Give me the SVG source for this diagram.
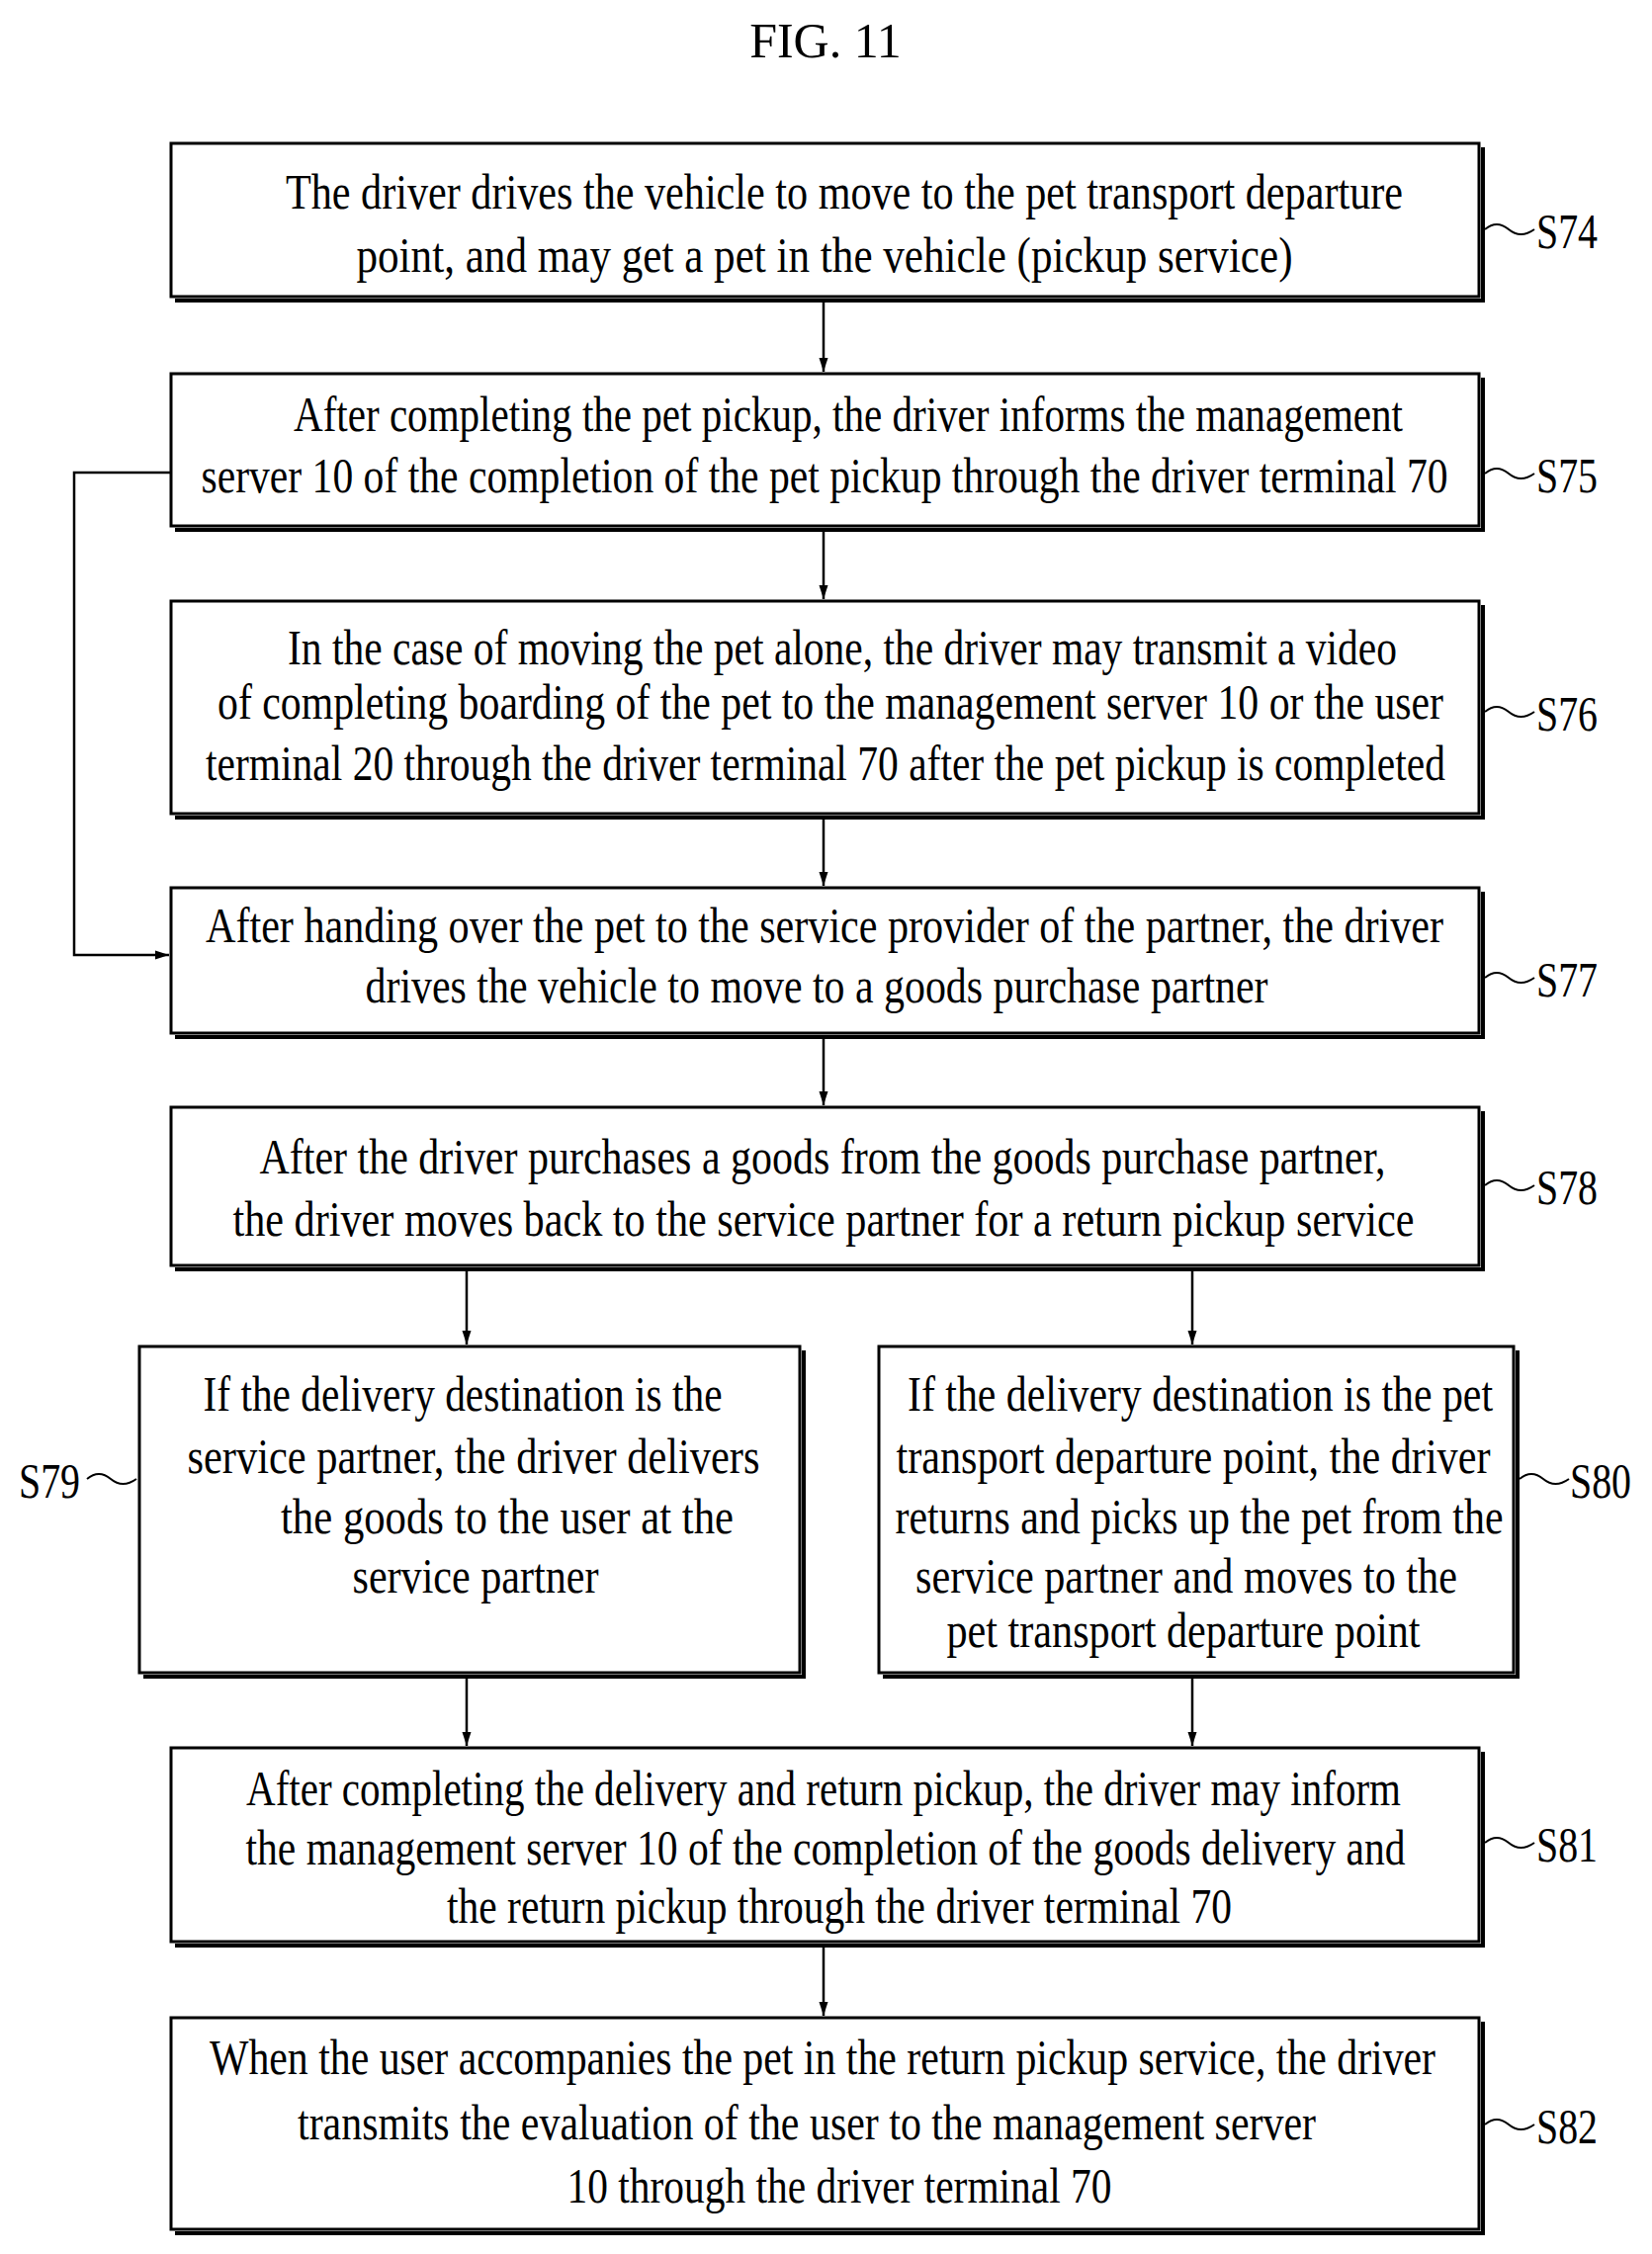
<svg xmlns="http://www.w3.org/2000/svg" width="1671" height="2280" viewBox="0 0 1671 2280">
<style>
.b{fill:#fff;stroke:#000;stroke-width:3}
.sh{fill:none;stroke:#000;stroke-width:4}
.t{font-family:"Liberation Serif",serif;font-size:50px;text-anchor:middle;fill:#000}
.l{font-family:"Liberation Serif",serif;font-size:50px;fill:#000}
.c{fill:none;stroke:#000;stroke-width:2.5}
.tl{fill:none;stroke:#000;stroke-width:2}
</style>
<defs><marker id="a" markerWidth="14" markerHeight="28" refX="14" refY="7" orient="auto" markerUnits="userSpaceOnUse" viewBox="0 0 14 14"><path d="M0,2.5 L14,7 L0,11.5 Z" fill="#000"/></marker></defs>
<text x="835" y="58" font-family="Liberation Serif,serif" font-size="50" text-anchor="middle">FIG. 11</text>
<g id="connectors">
<line class="c" x1="833" y1="302" x2="833" y2="376" marker-end="url(#a)"/>
<line class="c" x1="833" y1="534" x2="833" y2="606" marker-end="url(#a)"/>
<line class="c" x1="833" y1="825" x2="833" y2="896" marker-end="url(#a)"/>
<line class="c" x1="833" y1="1047" x2="833" y2="1118" marker-end="url(#a)"/>
<line class="c" x1="472" y1="1282" x2="472" y2="1360" marker-end="url(#a)"/>
<line class="c" x1="1206" y1="1282" x2="1206" y2="1360" marker-end="url(#a)"/>
<line class="c" x1="472" y1="1694" x2="472" y2="1766" marker-end="url(#a)"/>
<line class="c" x1="1206" y1="1694" x2="1206" y2="1766" marker-end="url(#a)"/>
<line class="c" x1="833" y1="1966" x2="833" y2="2039" marker-end="url(#a)"/>
<polyline class="c" points="173,478 75,478 75,966 171,966" marker-end="url(#a)"/>
</g>
<g id="S74"><polyline class="sh" points="1500,149 1500,304 177,304"/><rect class="b" x="173" y="145" width="1323" height="155"/>
<text class="t" x="854" y="211" textLength="1130" lengthAdjust="spacingAndGlyphs">The driver drives the vehicle to move to the pet transport departure</text>
<text class="t" x="834" y="275" textLength="947" lengthAdjust="spacingAndGlyphs">point, and may get a pet in the vehicle (pickup service)</text>
<path class="tl" d="M1502,232 q12,-10 24,0 t26,0"/><text class="l" x="1554" y="251" textLength="62" lengthAdjust="spacingAndGlyphs">S74</text></g>
<g id="S75"><polyline class="sh" points="1500,382 1500,536 177,536"/><rect class="b" x="173" y="378" width="1323" height="154"/>
<text class="t" x="858" y="436" textLength="1122" lengthAdjust="spacingAndGlyphs">After completing the pet pickup, the driver informs the management</text>
<text class="t" x="834" y="498" textLength="1261" lengthAdjust="spacingAndGlyphs">server 10 of the completion of the pet pickup through the driver terminal 70</text>
<path class="tl" d="M1502,479 q12,-10 24,0 t26,0"/><text class="l" x="1554" y="498" textLength="62" lengthAdjust="spacingAndGlyphs">S75</text></g>
<g id="S76"><polyline class="sh" points="1500,612 1500,827 177,827"/><rect class="b" x="173" y="608" width="1323" height="215"/>
<text class="t" x="852" y="672" textLength="1122" lengthAdjust="spacingAndGlyphs">In the case of moving the pet alone, the driver may transmit a video</text>
<text class="t" x="840" y="727" textLength="1240" lengthAdjust="spacingAndGlyphs">of completing boarding of the pet to the management server 10 or the user</text>
<text class="t" x="835" y="789" textLength="1254" lengthAdjust="spacingAndGlyphs">terminal 20 through the driver terminal 70 after the pet pickup is completed</text>
<path class="tl" d="M1502,720 q12,-10 24,0 t26,0"/><text class="l" x="1554" y="739" textLength="62" lengthAdjust="spacingAndGlyphs">S76</text></g>
<g id="S77"><polyline class="sh" points="1500,902 1500,1049 177,1049"/><rect class="b" x="173" y="898" width="1323" height="147"/>
<text class="t" x="834" y="953" textLength="1252" lengthAdjust="spacingAndGlyphs">After handing over the pet to the service provider of the partner, the driver</text>
<text class="t" x="826" y="1014" textLength="913" lengthAdjust="spacingAndGlyphs">drives the vehicle to move to a goods purchase partner</text>
<path class="tl" d="M1502,989 q12,-10 24,0 t26,0"/><text class="l" x="1554" y="1008" textLength="62" lengthAdjust="spacingAndGlyphs">S77</text></g>
<g id="S78"><polyline class="sh" points="1500,1124 1500,1284 177,1284"/><rect class="b" x="173" y="1120" width="1323" height="160"/>
<text class="t" x="832" y="1187" textLength="1139" lengthAdjust="spacingAndGlyphs">After the driver purchases a goods from the goods purchase partner,</text>
<text class="t" x="833" y="1250" textLength="1195" lengthAdjust="spacingAndGlyphs">the driver moves back to the service partner for a return pickup service</text>
<path class="tl" d="M1502,1199 q12,-10 24,0 t26,0"/><text class="l" x="1554" y="1218" textLength="62" lengthAdjust="spacingAndGlyphs">S78</text></g>
<g id="S79"><polyline class="sh" points="813,1366 813,1696 145,1696"/><rect class="b" x="141" y="1362" width="668" height="330"/>
<text class="t" x="468" y="1427" textLength="525" lengthAdjust="spacingAndGlyphs">If the delivery destination is the</text>
<text class="t" x="479" y="1490" textLength="579" lengthAdjust="spacingAndGlyphs">service partner, the driver delivers</text>
<text class="t" x="513" y="1551" textLength="458" lengthAdjust="spacingAndGlyphs">the goods to the user at the</text>
<text class="t" x="481" y="1611" textLength="249" lengthAdjust="spacingAndGlyphs">service partner</text>
<path class="tl" d="M88,1496 q12,-10 24,0 t26,0"/><text class="l" x="19" y="1515" textLength="62" lengthAdjust="spacingAndGlyphs">S79</text></g>
<g id="S80"><polyline class="sh" points="1535,1366 1535,1696 893,1696"/><rect class="b" x="889" y="1362" width="642" height="330"/>
<text class="t" x="1214" y="1427" textLength="592" lengthAdjust="spacingAndGlyphs">If the delivery destination is the pet</text>
<text class="t" x="1207" y="1490" textLength="601" lengthAdjust="spacingAndGlyphs">transport departure point, the driver</text>
<text class="t" x="1213" y="1551" textLength="615" lengthAdjust="spacingAndGlyphs">returns and picks up the pet from the</text>
<text class="t" x="1200" y="1611" textLength="548" lengthAdjust="spacingAndGlyphs">service partner and moves to the</text>
<text class="t" x="1197" y="1666" textLength="479" lengthAdjust="spacingAndGlyphs">pet transport departure point</text>
<path class="tl" d="M1537,1496 q12,-10 24,0 t26,0"/><text class="l" x="1588" y="1515" textLength="62" lengthAdjust="spacingAndGlyphs">S80</text></g>
<g id="S81"><polyline class="sh" points="1500,1772 1500,1968 177,1968"/><rect class="b" x="173" y="1768" width="1323" height="196"/>
<text class="t" x="833" y="1826" textLength="1168" lengthAdjust="spacingAndGlyphs">After completing the delivery and return pickup, the driver may inform</text>
<text class="t" x="835" y="1886" textLength="1173" lengthAdjust="spacingAndGlyphs">the management server 10 of the completion of the goods delivery and</text>
<text class="t" x="849" y="1945" textLength="794" lengthAdjust="spacingAndGlyphs">the return pickup through the driver terminal 70</text>
<path class="tl" d="M1502,1864 q12,-10 24,0 t26,0"/><text class="l" x="1554" y="1883" textLength="62" lengthAdjust="spacingAndGlyphs">S81</text></g>
<g id="S82"><polyline class="sh" points="1500,2045 1500,2259 177,2259"/><rect class="b" x="173" y="2041" width="1323" height="214"/>
<text class="t" x="832" y="2098" textLength="1240" lengthAdjust="spacingAndGlyphs">When the user accompanies the pet in the return pickup service, the driver</text>
<text class="t" x="816" y="2164" textLength="1030" lengthAdjust="spacingAndGlyphs">transmits the evaluation of the user to the management server</text>
<text class="t" x="849" y="2228" textLength="551" lengthAdjust="spacingAndGlyphs">10 through the driver terminal 70</text>
<path class="tl" d="M1502,2149 q12,-10 24,0 t26,0"/><text class="l" x="1554" y="2168" textLength="62" lengthAdjust="spacingAndGlyphs">S82</text></g>
</svg>
